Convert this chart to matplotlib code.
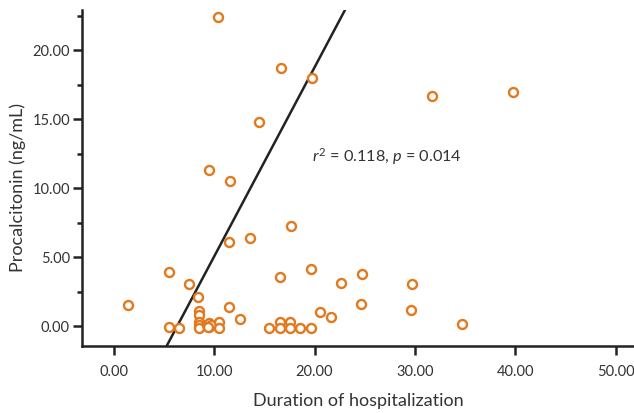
import matplotlib
matplotlib.use('Agg')
import numpy as np
import matplotlib.pyplot as plt

# Duration of hospitalization (days) vs procalcitonin (ng/mL)
duration = [10.4, 16.65, 19.7, 14.5, 9.47, 11.53, 31.7, 39.75,
            11.43, 13.55, 17.65, 5.47, 7.5, 8.42, 1.4, 11.47, 12.56,
            16.57, 19.6, 20.5, 21.6, 22.6, 24.7, 24.6, 29.7, 29.6, 34.7,
            5.45, 6.5,
            8.45, 8.45, 8.45, 8.45, 8.45,
            9.3, 9.5, 9.5, 9.7, 9.4,
            10.45, 10.45,
            15.5, 16.55, 16.55, 17.55, 17.55, 18.6, 19.6]
pct = [22.4, 18.7, 18.0, 14.75, 11.33, 10.53, 16.67, 16.93,
       6.09, 6.4, 7.27, 3.9, 3.02, 2.07, 1.52, 1.4, 0.49,
       3.56, 4.13, 0.99, 0.68, 3.14, 3.77, 1.59, 3.07, 1.16, 0.12,
       -0.1, -0.14,
       1.1, 0.8, 0.3, 0.05, -0.15,
       0.1, 0.25, -0.1, 0.05, -0.05,
       0.3, -0.15,
       -0.12, 0.3, -0.15, 0.3, -0.15, -0.12, -0.12]

# fitted line as drawn in the figure
slope = 1.37
intercept = -8.66

x_ticks = [0, 10, 20, 30, 40, 50]
y_ticks = [0, 5, 10, 15, 20]

plt.rcParams['font.family'] = ['Lato', 'DejaVu Sans']
plt.rcParams['mathtext.fontset'] = 'custom'
plt.rcParams['mathtext.rm'] = 'Lato'
plt.rcParams['mathtext.it'] = 'Lato:italic'

ink = '#222222'
orange = '#E2791F'

fig = plt.figure(figsize=(6.34, 4.13), dpi=100)
ax = fig.add_axes([0.1289, 0.1622, 0.8711, 0.8136])

ax.scatter(duration, pct, s=42, facecolors='white', edgecolors=orange,
           linewidths=1.7, zorder=3, clip_on=False)

xl = np.array([-3.2, 51.84])
ax.plot(xl, intercept + slope * xl, color=ink, lw=1.8, zorder=2)

ax.set_xlim(-3.2, 51.84)
ax.set_ylim(-1.45, 22.9)

ax.set_xticks(x_ticks)
ax.set_xticklabels(['%.2f' % v for v in x_ticks])
ax.set_yticks(y_ticks)
ax.set_yticklabels(['%.2f' % v for v in y_ticks])
ax.set_yticks(np.arange(2.5, 23, 5), minor=True)

for s in ['top', 'right']:
    ax.spines[s].set_visible(False)
for s in ['left', 'bottom']:
    ax.spines[s].set_linewidth(1.8)
    ax.spines[s].set_color(ink)

ax.tick_params(axis='both', which='major', length=6.5, width=1.8, color=ink,
               labelsize=10.5, labelcolor='#333333')
ax.tick_params(axis='x', pad=7)
ax.tick_params(axis='y', pad=2)
ax.tick_params(axis='y', which='minor', length=3.5, width=1.8, color=ink)

ax.set_xlabel('Duration of hospitalization', fontsize=13, color='#333333', labelpad=10)
ax.set_ylabel('Procalcitonin (ng/mL)', fontsize=13, color='#333333')
ax.yaxis.set_label_coords(-0.1, 0.472)

ax.text(19.77, 12.27, r'$r^2$ = 0.118, $p$ = 0.014', fontsize=11.7,
        color='#333333', va='center', ha='left')

fig.savefig('out.png', dpi=100)
